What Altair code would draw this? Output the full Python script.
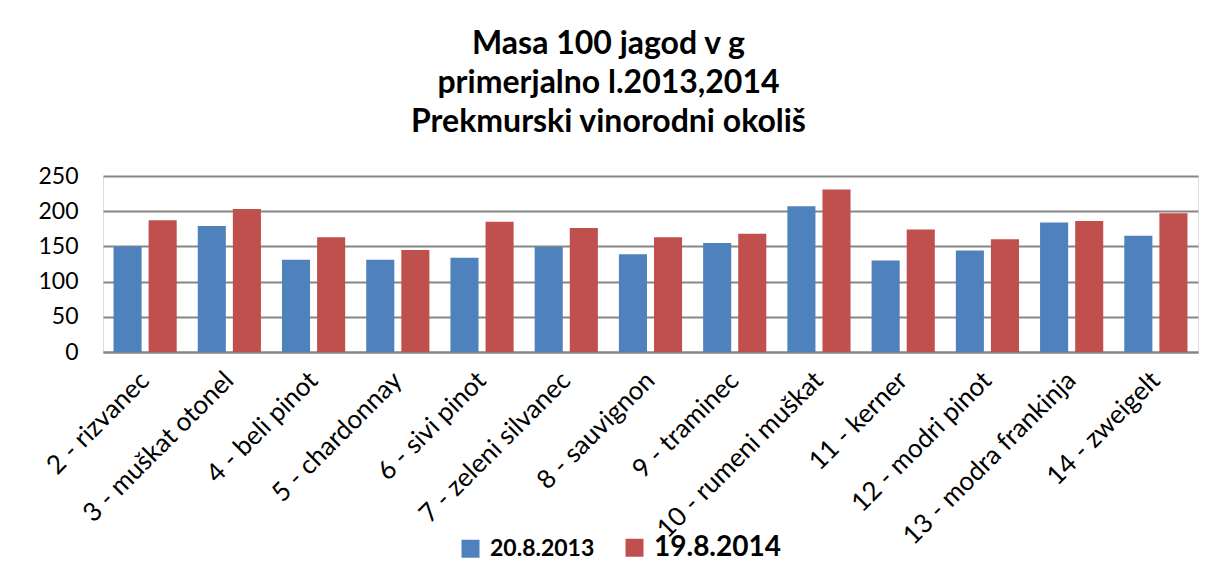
import altair as alt
import pandas as pd

categories = ["2 - rizvanec", "3 - muškat otonel", "4 - beli pinot", "5 - chardonnay",
              "6 - sivi pinot", "7 - zeleni silvanec", "8 - sauvignon", "9 - traminec",
              "10 - rumeni muškat", "11 - kerner", "12 - modri pinot",
              "13 - modra frankinja", "14 - zweigelt"]
series = ["20.8.2013", "19.8.2014"]
v2013 = [150, 179, 131, 131, 134, 149, 139, 155, 207, 130, 144, 184, 165]
v2014 = [187, 203, 163, 145, 185, 176, 163, 168, 231, 174, 160, 186, 197]
y_ticks = [0, 50, 100, 150, 200, 250]
title_lines = ["Masa 100 jagod v g", "primerjalno l.2013,2014", "Prekmurski vinorodni okoliš"]

rows = []
for c, a, b in zip(categories, v2013, v2014):
    rows.append({"category": c, "series": series[0], "value": a})
    rows.append({"category": c, "series": series[1], "value": b})
df = pd.DataFrame(rows)

FONT = "Lato"

chart = alt.Chart(df).mark_bar().encode(
    x=alt.X("category:N", sort=categories, title=None,
            scale=alt.Scale(paddingInner=0.25, paddingOuter=0.125),
            axis=alt.Axis(labelAngle=-45, labelAlign="right", labelBaseline="middle",
                          labelFontSize=26, labelFont=FONT, labelColor="#000000",
                          labelPadding=24, ticks=False, domainColor="#868686",
                          domainWidth=2, grid=False, labelLimit=400)),
    xOffset=alt.XOffset("series:N", sort=series, scale=alt.Scale(paddingInner=0.2)),
    y=alt.Y("value:Q", title=None, scale=alt.Scale(domain=[0, 250], nice=False),
            axis=alt.Axis(values=y_ticks, labelFontSize=23, labelFont=FONT,
                          labelColor="#000000", labelPadding=25, ticks=False,
                          domain=False, gridColor="#868686", gridWidth=2)),
    color=alt.Color("series:N", sort=series,
                    scale=alt.Scale(domain=series, range=["#4F81BD", "#C0504D"]),
                    legend=alt.Legend(title=None, orient="none", direction="horizontal",
                                      legendX=356, legendY=360,
                                      symbolType="square", symbolSize=324,
                                      symbolStrokeWidth=0, symbolOpacity=1,
                                      labelFont=FONT, labelFontWeight="bold",
                                      labelFontSize=alt.ExprRef(expr="datum.label == '19.8.2014' ? 28 : 23"),
                                      labelColor="#000000", labelOffset=8,
                                      columnPadding=28, labelLimit=300)),
).properties(
    width=1095,
    height=176,
    autosize=alt.AutoSizeParams(type="none"),
    padding={"left": 95, "top": 168, "right": 2, "bottom": 209},
    title=alt.TitleParams(text=title_lines, font=FONT, fontSize=32, fontWeight="bold",
                          color="#000000", anchor="middle", dx=-42, offset=26,
                          lineHeight=39),
).configure_view(stroke=None).configure(background="white")

chart.save("out.html", embed_options={"renderer": "svg", "actions": False})
